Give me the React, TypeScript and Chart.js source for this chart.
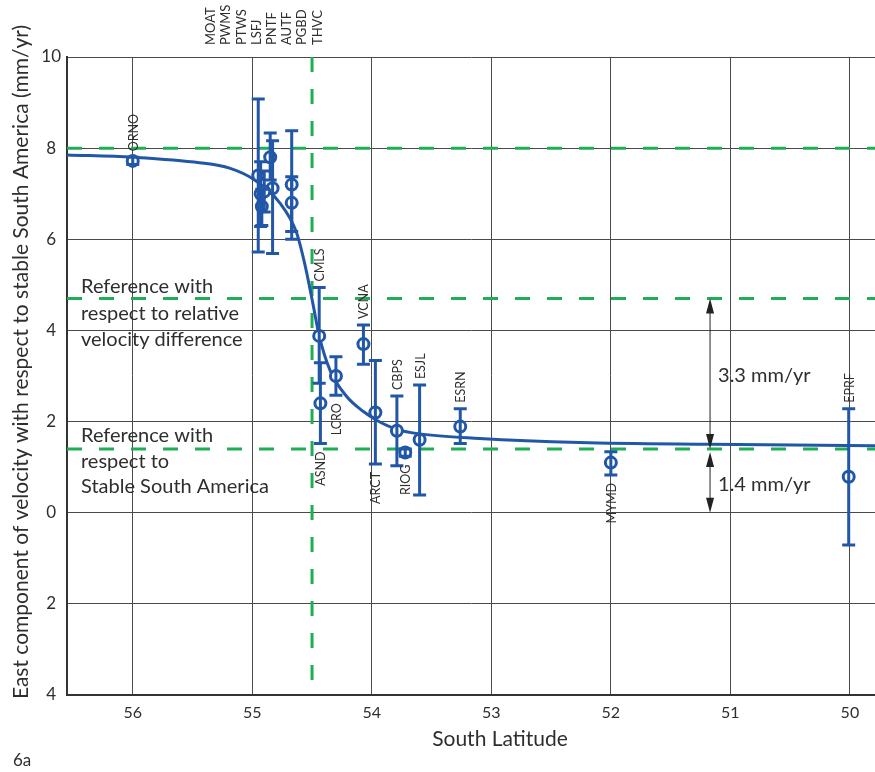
import React, { useEffect, useRef } from 'react';
import { Chart, registerables } from 'chart.js';

Chart.register(...registerables);

// ---------- data ----------
const X_MAX = 56.55; // left edge (axis reversed)
const X_MIN = 49.79; // right edge
const Y_MIN = -4;
const Y_MAX = 10;

const curveLat = [56.55, 56.0, 55.44, 55.19, 54.98, 54.77, 54.63, 54.56, 54.49, 54.44, 54.35, 54.21, 54.07, 53.96, 53.79, 53.6, 53.1, 52.26, 51.17, 49.79];
const curveVel = [7.85, 7.8, 7.68, 7.56, 7.3, 6.8, 6.15, 5.45, 4.55, 3.88, 3.13, 2.55, 2.22, 2.03, 1.83, 1.73, 1.63, 1.54, 1.5, 1.47];

const stationNames = ['ORNO', 'MOAT', 'PWMS', 'PTWS', 'LSFJ', 'PNTF', 'AUTF', 'PGBD', 'THVC', 'CMLS', 'ASND', 'LCRO', 'VCNA', 'ARCT', 'CBPS', 'RIOG', 'ESJL', 'ESRN', 'MYMD', 'EPRF'];
const stationLat = [56.0, 54.95, 54.93, 54.92, 54.85, 54.83, 54.67, 54.67, 54.9, 54.44, 54.43, 54.3, 54.07, 53.97, 53.79, 53.72, 53.6, 53.26, 52.0, 50.01];
const stationVel = [7.72, 7.4, 7.0, 6.72, 7.8, 7.12, 7.2, 6.8, 7.05, 3.88, 2.4, 3.0, 3.7, 2.2, 1.8, 1.32, 1.6, 1.89, 1.1, 0.79];
const stationLow = [7.64, 5.72, 6.28, 6.3, 7.3, 5.69, 6.0, 6.17, 6.6, 2.84, 1.52, 2.58, 3.26, 1.07, 1.03, 1.24, 0.39, 1.52, 0.83, -0.71];
const stationHigh = [7.8, 9.08, 7.7, 7.1, 8.33, 8.16, 8.38, 7.37, 7.5, 4.94, 3.29, 3.42, 4.12, 3.34, 2.56, 1.4, 2.8, 2.28, 1.34, 2.28];
// where each station's name is written: 'above' the bar, 'below' the bar, or in the 'top' list
const labelSide = ['above', 'top', 'top', 'top', 'top', 'top', 'top', 'top', 'top', 'above', 'below', 'below', 'above', 'below', 'above', 'below', 'above', 'above', 'below', 'above'];
const topListNames = ['MOAT', 'PWMS', 'PTWS', 'LSFJ', 'PNTF', 'AUTF', 'PGBD', 'THVC'];

const refLevels = [8, 4.7, 1.4];
const refLat = 54.5;

const xTickValues = [50, 51, 52, 53, 54, 55, 56];
const yTickValues = [-4, -2, 0, 2, 4, 6, 8, 10];

const arrowLat = 51.17;
const arrowSpans = [
  { from: 4.7, to: 1.4, label: '3.3 mm/yr' },
  { from: 1.4, to: 0, label: '1.4 mm/yr' },
];

const legendUpper = ['Reference with', 'respect to relative', 'velocity difference'];
const legendLower = ['Reference with', 'respect to', 'Stable South America'];

const yTitle = 'East component of velocity with respect to stable South America (mm/yr)';
const xTitle = 'South Latitude';
const panelTag = '6a';

// ---------- styles ----------
const BLUE = '#2157a6';
const GREEN = '#1fae55';
const TEXT = '#2e2e2e';
const GRID = '#4a4a4a';
const FONT = 'Lato, "Open Sans", "Noto Sans", sans-serif';

function arrowHead(ctx: CanvasRenderingContext2D, x: number, tipY: number, dir: number) {
  const len = 15;
  const hw = 4;
  ctx.beginPath();
  ctx.moveTo(x, tipY);
  ctx.lineTo(x - hw, tipY + dir * len);
  ctx.lineTo(x + hw, tipY + dir * len);
  ctx.closePath();
  ctx.fill();
}

const overlayPlugin = {
  id: 'overlay',
  afterDatasetsDraw(chart: any) {
    const { ctx, scales } = chart;
    const xs = scales.x;
    const ys = scales.y;
    ctx.save();

    // error bars
    ctx.strokeStyle = BLUE;
    ctx.lineWidth = 3;
    ctx.lineCap = 'butt';
    const cap = 6.5;
    for (let i = 0; i < stationNames.length; i++) {
      const px = xs.getPixelForValue(stationLat[i]);
      const pl = ys.getPixelForValue(stationLow[i]);
      const ph = ys.getPixelForValue(stationHigh[i]);
      ctx.beginPath();
      ctx.moveTo(px, pl);
      ctx.lineTo(px, ph);
      ctx.moveTo(px - cap, pl);
      ctx.lineTo(px + cap, pl);
      ctx.moveTo(px - cap, ph);
      ctx.lineTo(px + cap, ph);
      ctx.stroke();
    }

    // station labels beside bars
    ctx.fillStyle = TEXT;
    ctx.font = `12.5px ${FONT}`;
    for (let i = 0; i < stationNames.length; i++) {
      const side = labelSide[i];
      if (side === 'top') continue;
      const px = xs.getPixelForValue(stationLat[i]) + 1;
      ctx.save();
      if (side === 'above') {
        const ph = ys.getPixelForValue(stationHigh[i]);
        ctx.translate(px, ph - 6);
        ctx.rotate(-Math.PI / 2);
        ctx.textAlign = 'left';
      } else {
        const pl = Math.max(ys.getPixelForValue(stationLow[i]), ys.getPixelForValue(stationVel[i]) + 4);
        ctx.translate(px, pl + 8);
        ctx.rotate(-Math.PI / 2);
        ctx.textAlign = 'right';
      }
      ctx.textBaseline = 'middle';
      ctx.fillText(stationNames[i], 0, 0);
      ctx.restore();
    }

    // legend text inside plot
    ctx.font = `20px ${FONT}`;
    ctx.textAlign = 'left';
    ctx.textBaseline = 'alphabetic';
    const left = chart.chartArea.left + 14;
    legendUpper.forEach((t, k) => ctx.fillText(t, left, 293 + k * 26.5));
    legendLower.forEach((t, k) => ctx.fillText(t, left, 442 + k * 25.5));

    // arrows
    const ax = xs.getPixelForValue(arrowLat);
    ctx.strokeStyle = '#222';
    ctx.fillStyle = '#222';
    ctx.lineWidth = 1;
    arrowSpans.forEach((s, k) => {
      const y1 = ys.getPixelForValue(s.from) + (k === 0 ? 0 : 3);
      const y2 = ys.getPixelForValue(s.to);
      ctx.beginPath();
      ctx.moveTo(ax, y1 + 4);
      ctx.lineTo(ax, y2 - 4);
      ctx.stroke();
      arrowHead(ctx, ax, y1, 1);
      arrowHead(ctx, ax, y2, -1);
      ctx.fillStyle = TEXT;
      ctx.font = `20px ${FONT}`;
      ctx.textBaseline = 'middle';
      ctx.fillText(s.label, ax + 8, (y1 + y2) / 2 + 2);
      ctx.fillStyle = '#222';
    });

    ctx.restore();
  },
  afterDraw(chart: any) {
    const { ctx, chartArea } = chart;
    ctx.save();
    ctx.fillStyle = TEXT;

    // station names listed above the plot
    ctx.font = `13px ${FONT}`;
    topListNames.forEach((n, k) => {
      ctx.save();
      ctx.translate(211 + k * 15.2, chartArea.top - 12);
      ctx.rotate(-Math.PI / 2);
      ctx.textAlign = 'left';
      ctx.textBaseline = 'middle';
      ctx.fillText(n, 0, 0);
      ctx.restore();
    });

    // axis titles
    ctx.font = `21px ${FONT}`;
    ctx.save();
    ctx.translate(21, 362);
    ctx.rotate(-Math.PI / 2);
    ctx.textAlign = 'center';
    ctx.textBaseline = 'middle';
    ctx.fillText(yTitle, 0, 0);
    ctx.restore();

    ctx.font = `21px ${FONT}`;
    ctx.textAlign = 'center';
    ctx.textBaseline = 'alphabetic';
    ctx.fillText(xTitle, 500, 746);

    ctx.font = `17px ${FONT}`;
    ctx.textAlign = 'left';
    ctx.fillText(panelTag, 13, 766);
    ctx.restore();
  },
};

export default function App() {
  const ref = useRef<HTMLCanvasElement | null>(null);

  useEffect(() => {
    if (!ref.current) return;

    const refDatasets = refLevels.map((lvl) => ({
      type: 'line' as const,
      data: [
        { x: X_MAX, y: lvl },
        { x: X_MIN, y: lvl },
      ],
      borderColor: GREEN,
      borderWidth: 3,
      borderDash: [15, 17],
      pointRadius: 0,
      fill: false,
      order: 5,
    }));

    const chart = new Chart(ref.current, {
      type: 'line',
      data: {
        datasets: [
          {
            type: 'scatter' as any,
            data: stationLat.map((x, i) => ({ x, y: stationVel[i] })),
            pointRadius: 5.5,
            pointBorderWidth: 3,
            pointBorderColor: BLUE,
            pointBackgroundColor: '#ffffff',
            showLine: false,
            order: 1,
          },
          {
            type: 'line' as const,
            data: curveLat.map((x, i) => ({ x, y: curveVel[i] })),
            borderColor: BLUE,
            borderWidth: 3,
            pointRadius: 0,
            cubicInterpolationMode: 'monotone',
            fill: false,
            order: 2,
          },
          ...refDatasets,
          {
            type: 'line' as const,
            data: [
              { x: refLat, y: Y_MAX },
              { x: refLat, y: Y_MIN },
            ],
            borderColor: GREEN,
            borderWidth: 3,
            borderDash: [15, 17],
            pointRadius: 0,
            fill: false,
            order: 5,
          },
        ] as any,
      },
      options: {
        animation: false,
        responsive: false,
        devicePixelRatio: 1,
        layout: { autoPadding: false, padding: { top: 57, right: 0, left: 0, bottom: 0 } },
        plugins: { legend: { display: false }, tooltip: { enabled: false } },
        scales: {
          x: {
            type: 'linear',
            reverse: true,
            min: X_MIN,
            max: X_MAX,
            afterFit: (s: any) => {
              s.height = 77;
              s.paddingLeft = 0;
              s.paddingRight = 0;
            },
            afterBuildTicks: (s: any) => {
              s.ticks = xTickValues.map((v) => ({ value: v }));
            },
            ticks: {
              color: TEXT,
              font: { family: FONT, size: 16 },
              padding: 8,
              maxRotation: 0,
            },
            grid: { color: GRID, lineWidth: 1, drawTicks: false },
            border: { color: '#333', width: 2 },
          },
          y: {
            type: 'linear',
            min: Y_MIN,
            max: Y_MAX,
            afterFit: (s: any) => {
              s.width = 67;
              s.paddingTop = 0;
              s.paddingBottom = 0;
            },
            afterBuildTicks: (s: any) => {
              s.ticks = yTickValues.map((v) => ({ value: v }));
            },
            ticks: {
              color: TEXT,
              font: { family: FONT, size: 17 },
              padding: 6,
              crossAlign: 'center',
              callback: (v: any) => String(Math.abs(Number(v))),
            },
            grid: { color: GRID, lineWidth: 1, drawTicks: false },
            border: { color: '#333', width: 2 },
          },
        },
      } as any,
      plugins: [overlayPlugin],
    });

    return () => chart.destroy();
  }, []);

  return (
    <canvas
      ref={ref}
      width={875}
      height={772}
      style={{ position: 'fixed', left: 0, top: 0, width: 875, height: 772, background: '#fff' }}
    />
  );
}
